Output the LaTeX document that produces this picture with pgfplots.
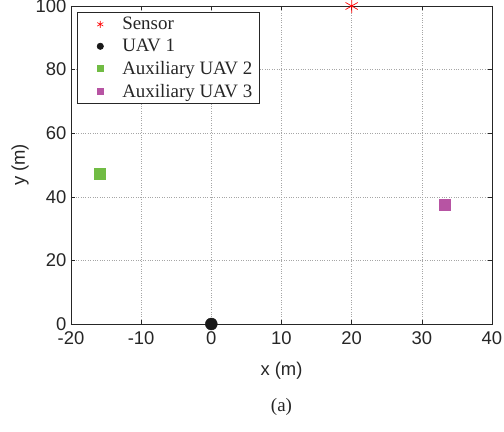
\documentclass[border=0pt]{standalone}
\usepackage{pgfplots}
\pgfplotsset{compat=1.18}
\usepackage{fontspec}
\setmainfont{Liberation Serif}
\newfontfamily\arial{Liberation Sans}
\definecolor{gr}{RGB}{113,188,68}
\definecolor{mg}{RGB}{183,84,163}
\definecolor{axc}{RGB}{38,38,38}
\begin{document}
\begin{tikzpicture}
\useasboundingbox (-71bp,-108bp) rectangle (433bp,324bp);
\begin{axis}[at={(0,0)}, anchor=south west, scale only axis,
  width=421bp, height=318bp,
  xmin=-20, xmax=40, ymin=0, ymax=100,
  xtick={-20,-10,...,40}, ytick={0,20,...,100},
  grid=major, grid style={dotted, gray!70, line width=0.5pt},
  axis line style={axc, line width=0.6pt},
  tick style={axc, line width=0.6pt}, tick align=inside, major tick length=4bp,
  /pgf/number format/assume math mode=true,
  ticklabel style={font=\arial\fontsize{18.5}{20}\selectfont, text=axc},
  xticklabel style={yshift=-4bp},
  yticklabel style={xshift=-1bp},
  xlabel={x (m)}, ylabel={y (m)},
  every axis x label/.style={at={(axis description cs:0.5,0)}, yshift=-47bp, anchor=center, font=\arial\fontsize{18.5}{20}\selectfont, text=axc},
  every axis y label/.style={at={(axis description cs:0,0.5)}, xshift=-51bp, rotate=90, anchor=center, font=\arial\fontsize{18.5}{20}\selectfont, text=axc},
  clip=false,
  legend cell align=left,
  legend image code/.code={\path[draw=none,fill=none] (0bp,0bp) -- (38bp,0bp); \draw[#1] plot coordinates {(18bp,0bp)};},
  legend style={at={(axis description cs:0,1)}, xshift=6bp, yshift=-6bp, anchor=north west,
    draw=axc, line width=0.6pt, font=\fontsize{19}{21}\selectfont, text=axc,
    inner xsep=5bp, inner ysep=3bp, row sep=4bp, column sep=0bp},
]
\addlegendimage{only marks, mark=asterisk, red, mark size=3.5bp, line width=0.6pt}
\addlegendentry{Sensor}
\addlegendimage{only marks, mark=*, black!90, mark size=3.2bp}
\addlegendentry{UAV 1}
\addlegendimage{only marks, mark=square*, gr, mark size=3bp}
\addlegendentry{Auxiliary UAV 2}
\addlegendimage{only marks, mark=square*, mg, mark size=3bp}
\addlegendentry{Auxiliary UAV 3}
\addplot[forget plot, only marks, mark=asterisk, red, mark size=7bp, line width=0.7pt] coordinates {(20,100)};
\addplot[forget plot, only marks, mark=*, black!90, mark size=6bp] coordinates {(0,0)};
\addplot[forget plot, only marks, mark=square*, gr, mark size=5.5bp] coordinates {(-15.9,47.3)};
\addplot[forget plot, only marks, mark=square*, mg, mark size=5.5bp] coordinates {(33.2,37.6)};
\end{axis}
\node[font=\fontsize{19}{21}\selectfont, text=axc] at (210.5bp,-83bp) {(a)};
\end{tikzpicture}
\end{document}
